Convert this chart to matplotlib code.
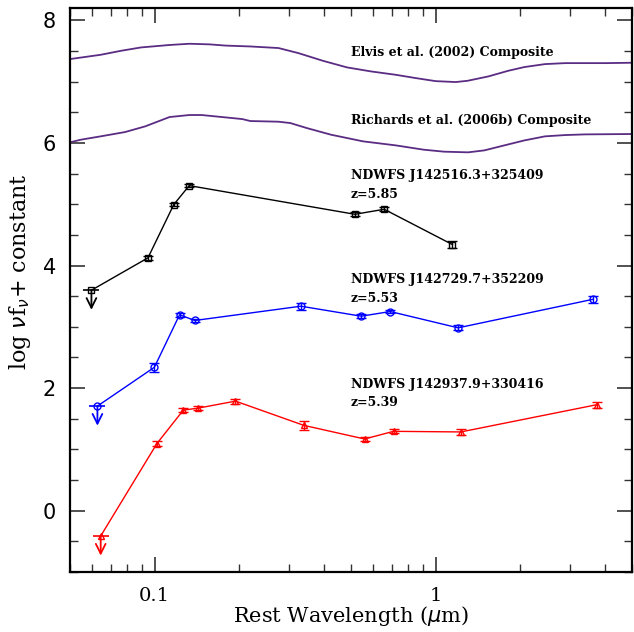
import numpy as np
import matplotlib.pyplot as plt
from matplotlib.ticker import LogLocator, FixedLocator, NullFormatter, MultipleLocator

# composite SEDs (rest wavelength in micron, log nu f_nu + const)
elvis_wave = [0.05, 0.0643, 0.0759, 0.0895, 0.113, 0.133, 0.157, 0.179, 0.219, 0.276,
              0.325, 0.397, 0.484, 0.590, 0.720, 0.849, 1.0, 1.18, 1.30, 1.54,
              1.816, 2.07, 2.45, 2.89, 4.02, 4.98]
elvis_flux = [7.37, 7.44, 7.505, 7.56, 7.60, 7.62, 7.61, 7.59, 7.576, 7.55,
              7.467, 7.342, 7.234, 7.168, 7.114, 7.06, 7.01, 6.995, 7.016, 7.087,
              7.18, 7.24, 7.288, 7.304, 7.304, 7.31]
rich_wave = [0.05, 0.0546, 0.0643, 0.0785, 0.0926, 0.113, 0.133, 0.147, 0.179, 0.205,
             0.219, 0.276, 0.304, 0.3475, 0.424, 0.552, 0.720, 0.907, 1.07, 1.305,
             1.49, 1.757, 2.07, 2.45, 2.89, 3.41, 4.98]
rich_flux = [6.011, 6.054, 6.109, 6.179, 6.272, 6.424, 6.457, 6.457, 6.418, 6.391,
             6.359, 6.348, 6.326, 6.245, 6.136, 6.027, 5.962, 5.891, 5.859, 5.848,
             5.88, 5.962, 6.043, 6.109, 6.13, 6.141, 6.147]

# NDWFS J142516.3+325409, z=5.85
q1_wave = [0.0596, 0.0947, 0.117, 0.1328, 0.516, 0.656, 1.147]
q1_flux = [3.598, 4.126, 4.995, 5.305, 4.837, 4.919, 4.343]
q1_err = [0.0, 0.03, 0.03, 0.03, 0.03, 0.03, 0.06]

# NDWFS J142729.7+352209, z=5.53
q2_wave = [0.0626, 0.0998, 0.1227, 0.139, 0.3315, 0.5436, 0.6893, 1.202, 3.633]
q2_flux = [1.707, 2.34, 3.197, 3.104, 3.337, 3.174, 3.25, 2.984, 3.45]
q2_err = [0.0, 0.07, 0.03, 0.03, 0.06, 0.03, 0.03, 0.04, 0.06]

# NDWFS J142937.9+330416, z=5.39
q3_wave = [0.0643, 0.1019, 0.1265, 0.143, 0.194, 0.3398, 0.5585, 0.708, 1.229, 3.748]
q3_flux = [-0.413, 1.095, 1.641, 1.674, 1.788, 1.392, 1.17, 1.295, 1.285, 1.73]
q3_err = [0.0, 0.04, 0.03, 0.03, 0.04, 0.07, 0.03, 0.03, 0.05, 0.05]

names = ["NDWFS J142516.3+325409", "NDWFS J142729.7+352209", "NDWFS J142937.9+330416"]
redshifts = ["z=5.85", "z=5.53", "z=5.39"]
name_y = [5.47, 3.77, 2.06]
z_y = [5.16, 3.46, 1.76]

purple = '#5b2c83'
serif = 'DejaVu Serif'

fig = plt.figure(figsize=(6.34, 6.32), dpi=100)
ax = fig.add_axes([0.1104, 0.095, 0.8866, 0.892])

ax.plot(elvis_wave, elvis_flux, color=purple, lw=1.3)
ax.plot(rich_wave, rich_flux, color=purple, lw=1.3)
ax.text(0.5, 7.47, "Elvis et al. (2002) Composite", fontsize=9, family=serif,
        fontweight='bold', va='center')
ax.text(0.5, 6.36, "Richards et al. (2006b) Composite", fontsize=9, family=serif,
        fontweight='bold', va='center')

series = [(q1_wave, q1_flux, q1_err, 'k', 's'),
          (q2_wave, q2_flux, q2_err, '#0000ff', 'o'),
          (q3_wave, q3_flux, q3_err, '#ff0000', '^')]

for (w, f, e, c, m), nm, zz, ny, zy in zip(series, names, redshifts, name_y, z_y):
    ax.plot(w, f, color=c, lw=1.0)
    # detections (first point is an upper limit)
    ax.errorbar(w[1:], f[1:], yerr=e[1:], fmt=m, mfc='none', mec=c, ecolor=c,
                ms=5, mew=1.0, elinewidth=1.0, capsize=3.5, capthick=1.0)
    ax.plot(w[0], f[0], marker=m, mfc='none', mec=c, ms=5, mew=1.0, ls='none')
    ax.plot(w[0], f[0], marker='_', color=c, ms=11, mew=1.2, ls='none')
    ax.annotate('', xy=(w[0], f[0] - 0.32), xytext=(w[0], f[0]),
                arrowprops=dict(arrowstyle='->,head_length=0.7,head_width=0.35',
                                color=c, lw=1.3, shrinkA=0, shrinkB=0))
    ax.text(0.5, ny, nm, fontsize=9, family=serif, fontweight='bold', va='center')
    ax.text(0.5, zy, zz, fontsize=9, family=serif, fontweight='bold', va='center')

ax.set_xscale('log')
ax.set_xlim(0.05, 5.0)
ax.set_ylim(-1.0, 8.2)

ax.xaxis.set_major_locator(FixedLocator([0.1, 1.0]))
ax.xaxis.set_minor_locator(LogLocator(base=10, subs=np.arange(2, 10)))
ax.xaxis.set_minor_formatter(NullFormatter())
ax.set_xticklabels(['0.1', '1'])
ax.yaxis.set_major_locator(MultipleLocator(2))
ax.yaxis.set_minor_locator(MultipleLocator(0.5))

ax.tick_params(which='both', direction='in', top=True, right=True, color='#333333')
ax.tick_params(which='major', length=11, width=1.2)
ax.tick_params(which='minor', length=5.5, width=1.0)
ax.tick_params(axis='x', which='major', labelsize=14, pad=11)
ax.tick_params(axis='y', which='major', labelsize=15, pad=10)
for lab in ax.get_xticklabels():
    lab.set_family(serif)
for sp in ax.spines.values():
    sp.set_linewidth(1.6)

ax.set_xlabel(r'Rest Wavelength ($\mu$m)', fontsize=15, family=serif)
ax.set_ylabel(r'log $\nu$f$_\nu$+ constant', fontsize=16, family=serif)
ax.xaxis.set_label_coords(0.5, -0.057)
ax.yaxis.set_label_coords(-0.066, 0.532)

fig.savefig('out.png', dpi=100)
